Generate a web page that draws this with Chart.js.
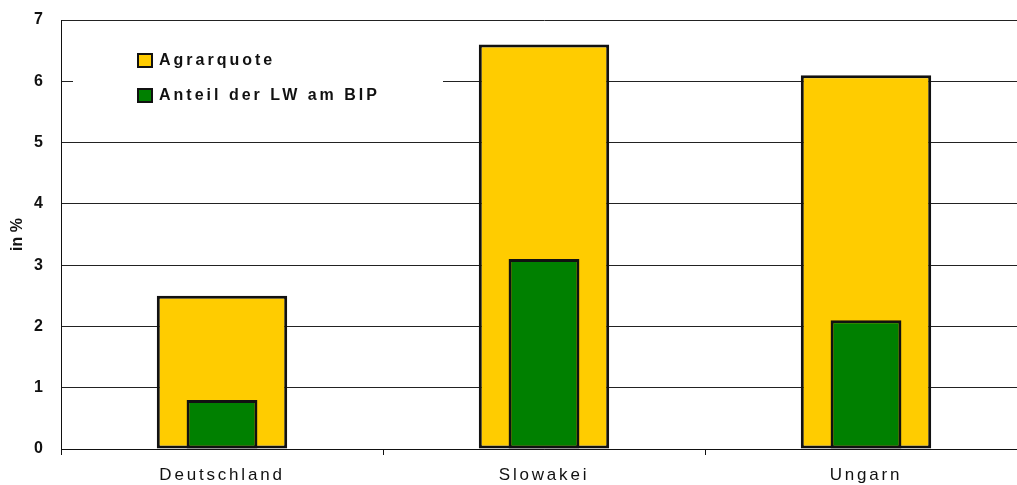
<!DOCTYPE html>
<html>
<head>
<meta charset="utf-8">
<script src="https://cdn.jsdelivr.net/npm/chart.js@4/dist/chart.umd.min.js"></script>
<style>
  html, body { margin: 0; padding: 0; background: #fff; }
  #wrap { width: 1017px; height: 485px; overflow: hidden; position: relative; }
  #chart { display: block; }
</style>
</head>
<body>
<div id="wrap"><canvas id="chart" width="1027" height="485"></canvas></div>
<script>
// Categories and series (percent)
const countries = ['Deutschland', 'Slowakei', 'Ungarn'];
const agrarquote = [2.5, 6.6, 6.1];
const anteilLwBip = [0.8, 3.1, 2.1];
const seriesNames = ['Agrarquote', 'Anteil der LW am BIP'];
const yTicks = [0, 1, 2, 3, 4, 5, 6, 7];

const FONT = "'Liberation Sans', Arial, Helvetica, sans-serif";

// Wrap a scale's label drawing so its text gets extra letter spacing
function spacedLabels(scale, spacing) {
  const orig = scale.drawLabels.bind(scale);
  scale.drawLabels = function (area) {
    const ctx = this.ctx;
    ctx.save();
    ctx.letterSpacing = spacing;
    orig(area);
    ctx.restore();
  };
}

// Legend boxed inside the plot area, top-left
const innerLegend = {
  id: 'innerLegend',
  beforeDatasetsDraw(chart) {
    const ctx = chart.ctx;
    const a = chart.chartArea;
    const x0 = a.left + 12, y0 = a.top + 10;
    ctx.save();
    ctx.fillStyle = '#fff';
    ctx.fillRect(x0, y0, 370, 95);
    ctx.font = 'bold 16px ' + FONT;
    ctx.letterSpacing = '3px';
    ctx.textBaseline = 'middle';
    ctx.textAlign = 'left';
    const items = [chart.data.datasets[0], chart.data.datasets[1]];
    items.forEach((ds, i) => {
      const cy = a.top + 41 + i * 35;
      const sx = a.left + 77;
      ctx.fillStyle = ds.backgroundColor;
      ctx.fillRect(sx, cy - 7, 14, 13);
      ctx.lineWidth = 2;
      ctx.strokeStyle = '#111';
      ctx.strokeRect(sx, cy - 7, 14, 13);
      ctx.fillStyle = '#111';
      ctx.fillText(ds.label, sx + 21, cy);
    });
    ctx.restore();
  }
};

const chart = new Chart(document.getElementById('chart'), {
  type: 'bar',
  data: {
    labels: countries,
    datasets: [
      {
        label: seriesNames[0],
        data: agrarquote,
        backgroundColor: '#FFCC00',
        borderColor: '#111',
        borderWidth: 3,
        borderSkipped: false,
        barPercentage: 0.405,
        categoryPercentage: 1,
        grouped: false,
        order: 2
      },
      {
        label: seriesNames[1],
        data: anteilLwBip,
        backgroundColor: '#008000',
        borderColor: '#111',
        borderWidth: 3,
        borderSkipped: false,
        barPercentage: 0.22,
        categoryPercentage: 1,
        grouped: false,
        order: 1
      }
    ]
  },
  options: {
    responsive: false,
    animation: false,
    layout: { padding: { top: 20, right: 0, left: 0, bottom: 0 } },
    plugins: {
      legend: { display: false },
      tooltip: { enabled: false },
      title: { display: false }
    },
    scales: {
      x: {
        offset: true,
        grid: {
          offset: true,
          drawOnChartArea: false,
          drawTicks: true,
          tickLength: 6,
          color: '#111'
        },
        border: { display: true, color: '#111', width: 1 },
        ticks: {
          color: '#111',
          font: { family: FONT, size: 17 },
          padding: 10,
          maxRotation: 0,
          autoSkip: false
        },
        afterFit(scale) {
          scale.height = 36;
          scale.paddingLeft = 0;
          scale.paddingRight = 0;
        }
      },
      y: {
        min: 0,
        max: 7,
        afterBuildTicks(scale) { scale.ticks = yTicks.map(v => ({ value: v })); },
        grid: {
          drawTicks: false,
          color: '#222',
          lineWidth: 1
        },
        border: { display: true, color: '#111', width: 1 },
        ticks: {
          color: '#111',
          font: { family: FONT, size: 16, weight: 'bold' },
          padding: 18
        },
        title: {
          display: true,
          text: 'in %',
          color: '#111',
          font: { family: FONT, size: 16, weight: 'bold' },
          padding: { top: 8, bottom: 0 }
        },
        afterFit(scale) {
          scale.width = 61;
          scale.paddingTop = 0;
          scale.paddingBottom = 0;
        }
      }
    }
  },
  plugins: [innerLegend]
});

spacedLabels(chart.scales.x, '2.8px');
chart.draw();
</script>
</body>
</html>
